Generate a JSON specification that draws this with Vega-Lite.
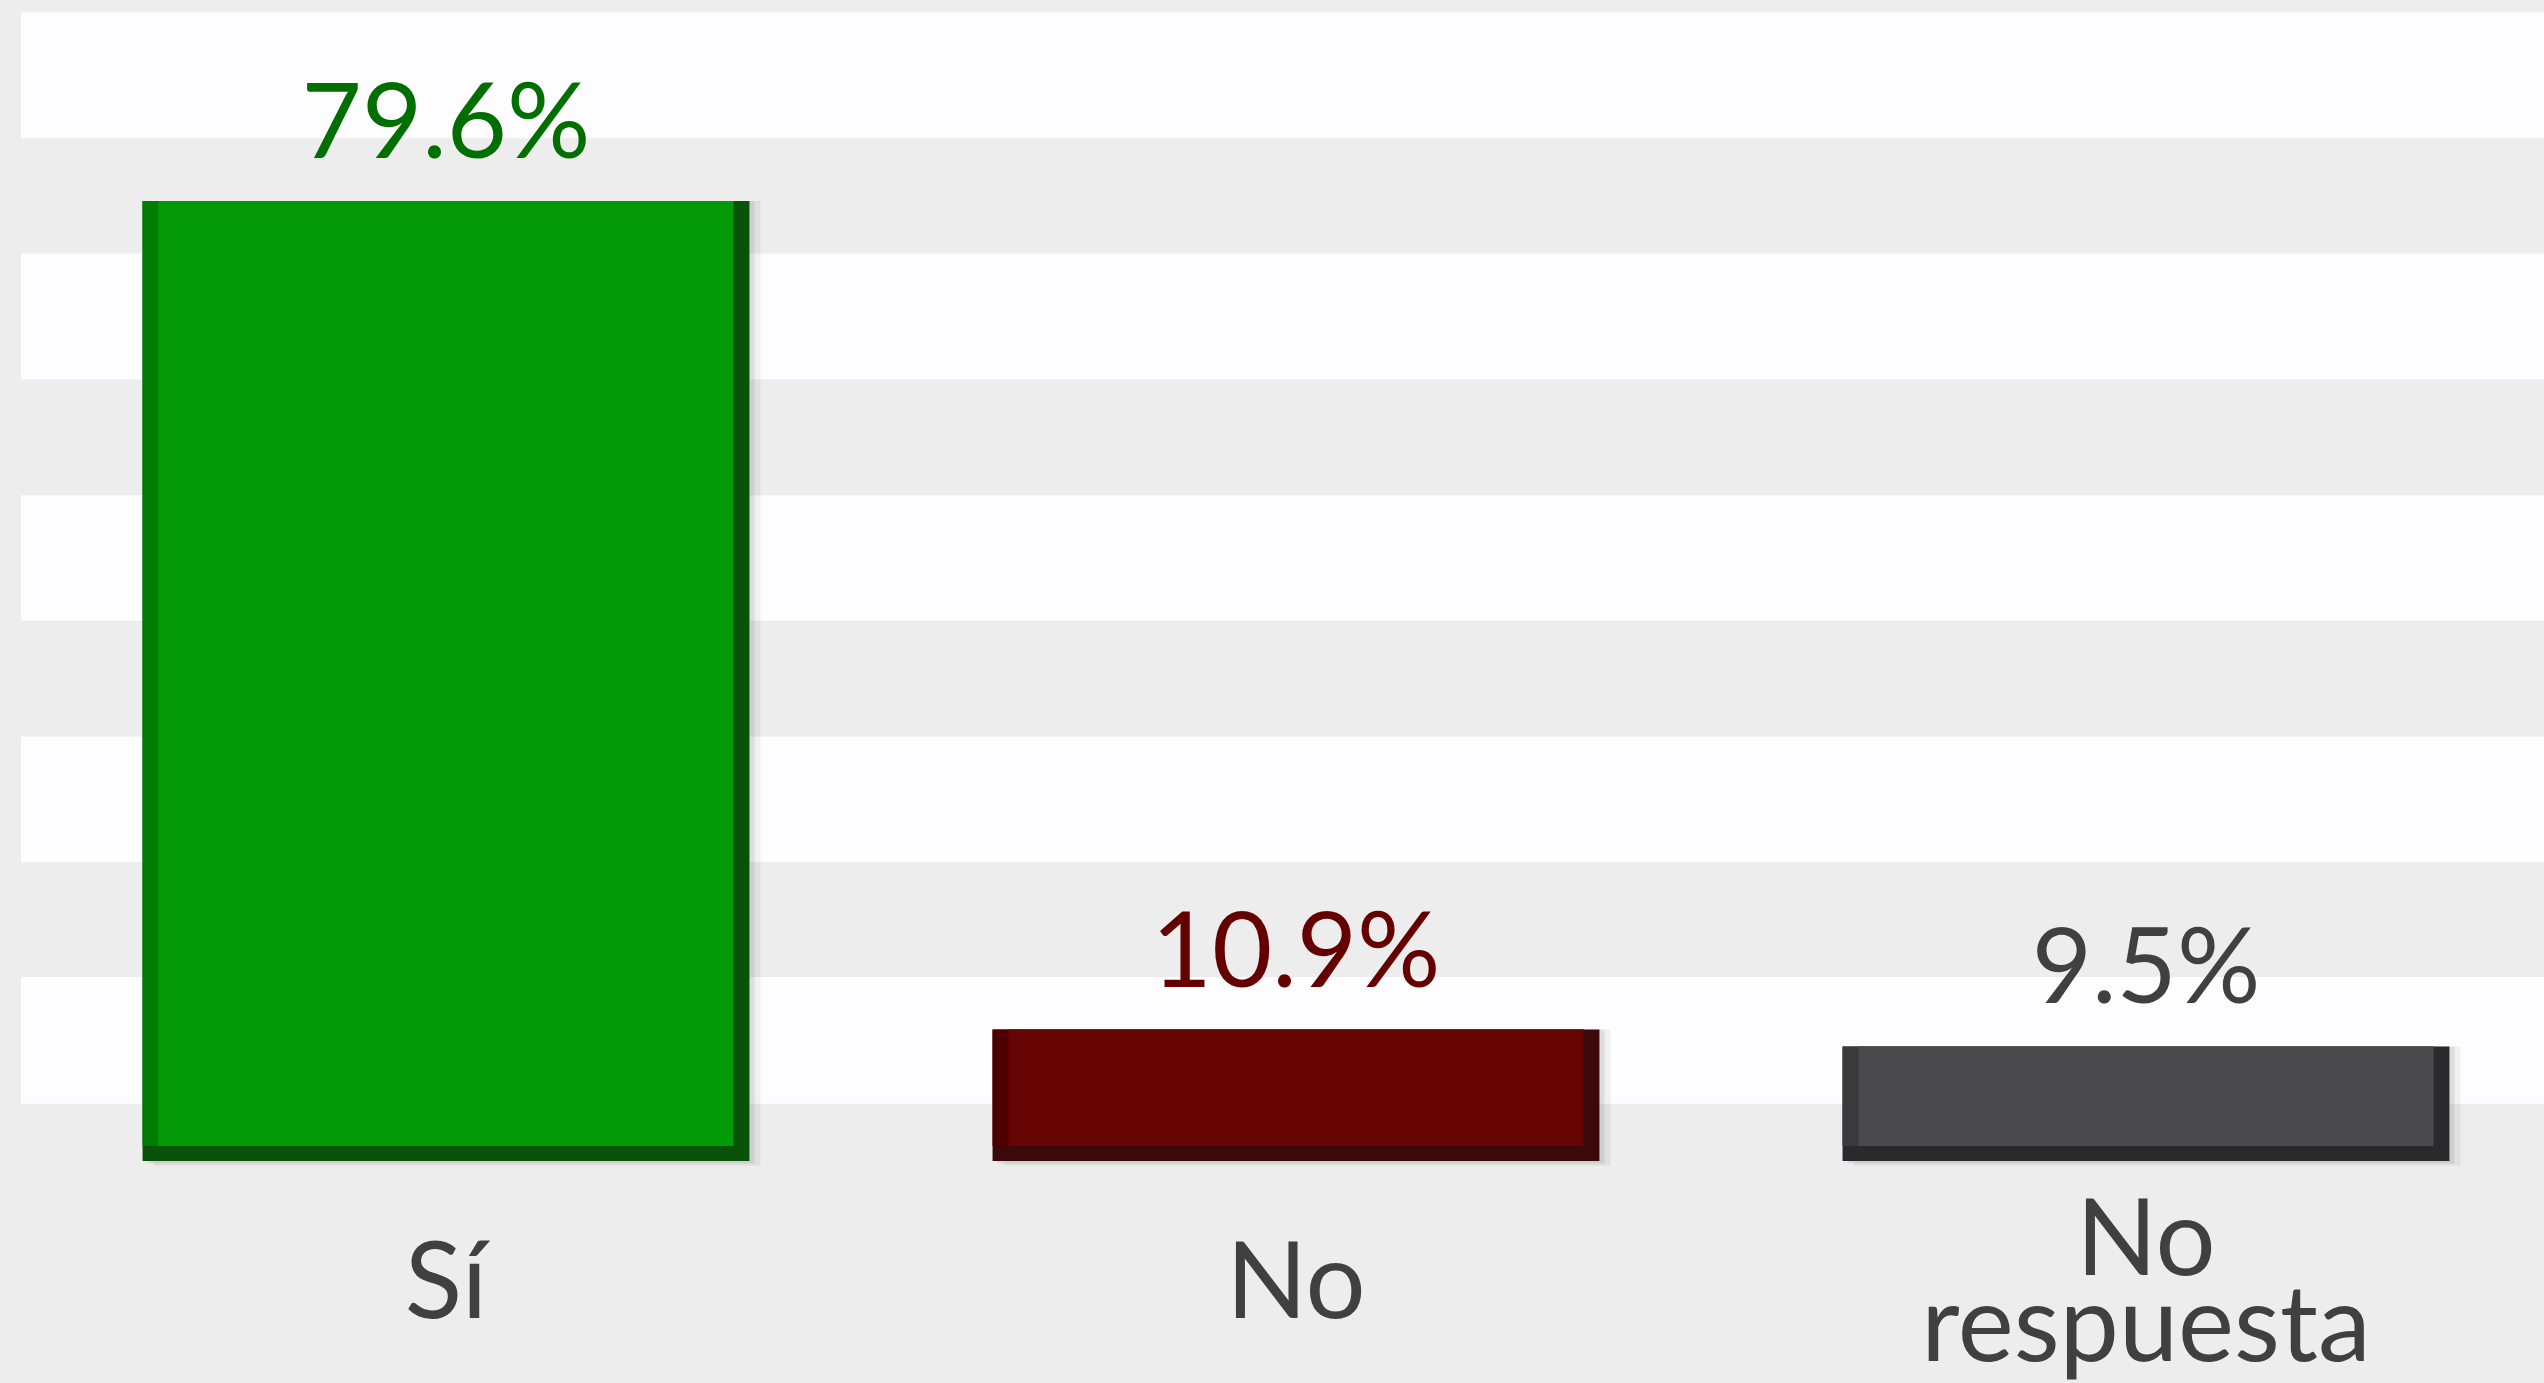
{
  "$schema": "https://vega.github.io/schema/vega-lite/v6.json",
  "width": 2523,
  "height": 1161,
  "autosize": {"type": "none"},
  "padding": {"left": 21, "top": 0, "right": 0, "bottom": 222},
  "background": "#ededed",
  "config": {"view": {"stroke": null}, "font": "Lato"},
  "datasets": {
    "bars": [
      {"cat": "Sí", "pct": 79.6, "label": "79.6%"},
      {"cat": "No", "pct": 10.9, "label": "10.9%"},
      {"cat": "No respuesta", "pct": 9.5, "label": "9.5%"}
    ],
    "bands": [
      {"lo": 4.75, "hi": 15.25},
      {"lo": 24.8, "hi": 35.2},
      {"lo": 44.8, "hi": 55.2},
      {"lo": 64.8, "hi": 75.25},
      {"lo": 84.8, "hi": 95.25}
    ]
  },
  "layer": [
    {
      "data": {"name": "bands"},
      "mark": {"type": "rect", "color": "#fdfcfe"},
      "encoding": {
        "y": {"field": "lo", "type": "quantitative", "scale": {"domain": [0, 96.27], "nice": false, "zero": true}, "axis": null},
        "y2": {"field": "hi"}
      }
    },
    {
      "data": {"name": "bars"},
      "mark": {"type": "bar", "color": "#000000", "opacity": 0.05, "xOffset": 11},
      "encoding": {
        "x": {"field": "cat", "type": "nominal", "sort": null, "scale": {"domain": ["Sí", "No", "No respuesta"], "range": [0, 2550], "paddingInner": 0.286, "paddingOuter": 0.143},
          "axis": {"orient": "bottom", "title": null, "domain": false, "ticks": false, "tickSize": 0, "grid": false, "labelAngle": 0,
            "labelPadding": {"condition": {"test": "datum.value == 'No respuesta'", "value": 81}, "value": 124},
            "labelFont": "Lato", "labelFontSize": 106, "labelColor": "#404040", "labelBaseline": "middle", "labelLineHeight": 86, "labelLimit": 0, "labelOverlap": false, "labelExpr": "split(datum.label, ' ')"}},
        "y": {"field": "pct", "type": "quantitative", "scale": {"domain": [0, 96.27], "nice": false, "zero": true}, "axis": null},
        "y2": {"datum": -0.4}
      }
    },
    {
      "data": {"name": "bars"},
      "mark": {"type": "bar", "color": "#000000", "opacity": 0.08, "xOffset": 5},
      "encoding": {
        "x": {"field": "cat", "type": "nominal", "sort": null, "scale": {"domain": ["Sí", "No", "No respuesta"], "range": [0, 2550], "paddingInner": 0.286, "paddingOuter": 0.143}},
        "y": {"field": "pct", "type": "quantitative", "scale": {"domain": [0, 96.27], "nice": false, "zero": true}, "axis": null},
        "y2": {"datum": -0.2}
      }
    },
    {
      "data": {"name": "bars"},
      "mark": {"type": "bar"},
      "encoding": {
        "x": {"field": "cat", "type": "nominal", "sort": null, "scale": {"domain": ["Sí", "No", "No respuesta"], "range": [0, 2550], "paddingInner": 0.286, "paddingOuter": 0.143}},
        "y": {"field": "pct", "type": "quantitative", "scale": {"domain": [0, 96.27], "nice": false, "zero": true}, "axis": null},
        "y2": {"datum": 0},
        "color": {"field": "cat", "type": "nominal", "scale": {"domain": ["Sí", "No", "No respuesta"], "range": ["#0a510a", "#3b0909", "#2a292b"]}, "legend": null}
      }
    },
    {
      "data": {"name": "bars"},
      "mark": {"type": "bar", "width": 591, "xOffset": -8},
      "encoding": {
        "x": {"field": "cat", "type": "nominal", "sort": null, "scale": {"domain": ["Sí", "No", "No respuesta"], "range": [0, 2550], "paddingInner": 0.286, "paddingOuter": 0.143}},
        "y": {"field": "pct", "type": "quantitative", "scale": {"domain": [0, 96.27], "nice": false, "zero": true}, "axis": null},
        "y2": {"datum": 1.25},
        "color": {"field": "cat", "type": "nominal", "scale": {"domain": ["Sí", "No", "No respuesta"], "range": ["#007c00", "#4e0000", "#3a393b"]}, "legend": null}
      }
    },
    {
      "data": {"name": "bars"},
      "mark": {"type": "bar", "width": 575},
      "encoding": {
        "x": {"field": "cat", "type": "nominal", "sort": null, "scale": {"domain": ["Sí", "No", "No respuesta"], "range": [0, 2550], "paddingInner": 0.286, "paddingOuter": 0.143}},
        "y": {"field": "pct", "type": "quantitative", "scale": {"domain": [0, 96.27], "nice": false, "zero": true}, "axis": null},
        "y2": {"datum": 1.25},
        "color": {"field": "cat", "type": "nominal", "scale": {"domain": ["Sí", "No", "No respuesta"], "range": ["#049906", "#670404", "#4a494b"]}, "legend": null}
      }
    },
    {
      "data": {"name": "bars"},
      "mark": {"type": "text", "font": "Lato", "fontSize": 104, "baseline": "alphabetic", "align": "center", "dy": -43},
      "encoding": {
        "x": {"field": "cat", "type": "nominal", "sort": null, "scale": {"domain": ["Sí", "No", "No respuesta"], "range": [0, 2550], "paddingInner": 0.286, "paddingOuter": 0.143}},
        "y": {"field": "pct", "type": "quantitative", "scale": {"domain": [0, 96.27], "nice": false, "zero": true}, "axis": null},
        "text": {"field": "label"},
        "color": {"field": "cat", "type": "nominal", "scale": {"domain": ["Sí", "No", "No respuesta"], "range": ["#006f00", "#650000", "#404040"]}, "legend": null}
      }
    }
  ],
  "resolve": {"scale": {"color": "independent"}}
}
